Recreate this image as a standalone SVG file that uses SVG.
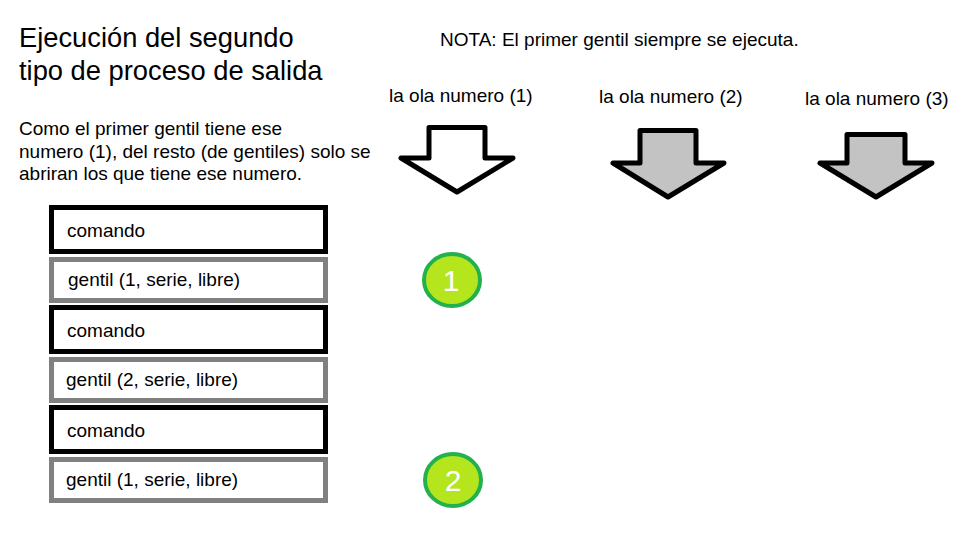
<svg xmlns="http://www.w3.org/2000/svg" width="974" height="543" viewBox="0 0 974 543">
<style>
text{font-family:"Liberation Sans",Arial,sans-serif;fill:#000}
.t{font-size:27.3px}
.s{font-size:19px}
.cmd{fill:#fff;stroke:#000;stroke-width:5}
.gen{fill:#fff;stroke:#808080;stroke-width:5}
.arr{stroke:#000;stroke-width:5;stroke-linejoin:round}
.num{fill:#b5e61d;stroke:#22b14c;stroke-width:4}
.nt{font-size:30px;fill:#fff;text-anchor:middle}
</style>
<rect width="974" height="543" fill="#fff"/>
<g id="title">
<text class="t" x="19" y="47">Ejecución del segundo</text>
<text class="t" x="19" y="80">tipo de proceso de salida</text>
</g>
<g id="nota"><text class="s" x="440" y="46">NOTA: El primer gentil siempre se ejecuta.</text></g>
<g id="desc">
<text class="s" x="19" y="135">Como el primer gentil tiene ese</text>
<text class="s" x="19" y="158">numero (1), del resto (de gentiles) solo se</text>
<text class="s" x="19" y="180">abriran los que tiene ese numero.</text>
</g>
<g id="ola1">
<text class="s" x="389" y="102">la ola numero (1)</text>
<polygon class="arr" fill="#fff" points="429,127.5 485,127.5 485,158 513,158 457,192 401,158 429,158"/>
</g>
<g id="ola2">
<text class="s" x="599" y="103">la ola numero (2)</text>
<polygon class="arr" fill="#c3c3c3" points="640,130.5 696,130.5 696,163 724,163 668,197 613,163 640,163"/>
</g>
<g id="ola3">
<text class="s" x="805" y="105">la ola numero (3)</text>
<polygon class="arr" fill="#c3c3c3" points="847,134.5 905,134.5 905,163 932,163 876,197 820,163 847,163"/>
</g>
<g id="comando1"><rect class="cmd" x="51.5" y="207.5" width="274" height="44"/><text class="s" x="67" y="237">comando</text></g>
<g id="gentil1"><rect class="gen" x="51.5" y="259.5" width="274" height="41"/><text class="s" x="68" y="286">gentil (1, serie, libre)</text></g>
<g id="comando2"><rect class="cmd" x="51.5" y="307.5" width="274" height="44"/><text class="s" x="67" y="337">comando</text></g>
<g id="gentil2"><rect class="gen" x="51.5" y="359.5" width="274" height="41"/><text class="s" x="66" y="386">gentil (2, serie, libre)</text></g>
<g id="comando3"><rect class="cmd" x="51.5" y="407.5" width="274" height="44"/><text class="s" x="67" y="437">comando</text></g>
<g id="gentil3"><rect class="gen" x="51.5" y="459.5" width="274" height="41"/><text class="s" x="66" y="486">gentil (1, serie, libre)</text></g>
<g id="badge1"><ellipse class="num" cx="452" cy="280" rx="28" ry="26"/><text class="nt" x="451" y="291">1</text></g>
<g id="badge2"><ellipse class="num" cx="453" cy="480" rx="28" ry="26"/><text class="nt" x="453" y="491">2</text></g>
<g id="connectors"></g>
</svg>
